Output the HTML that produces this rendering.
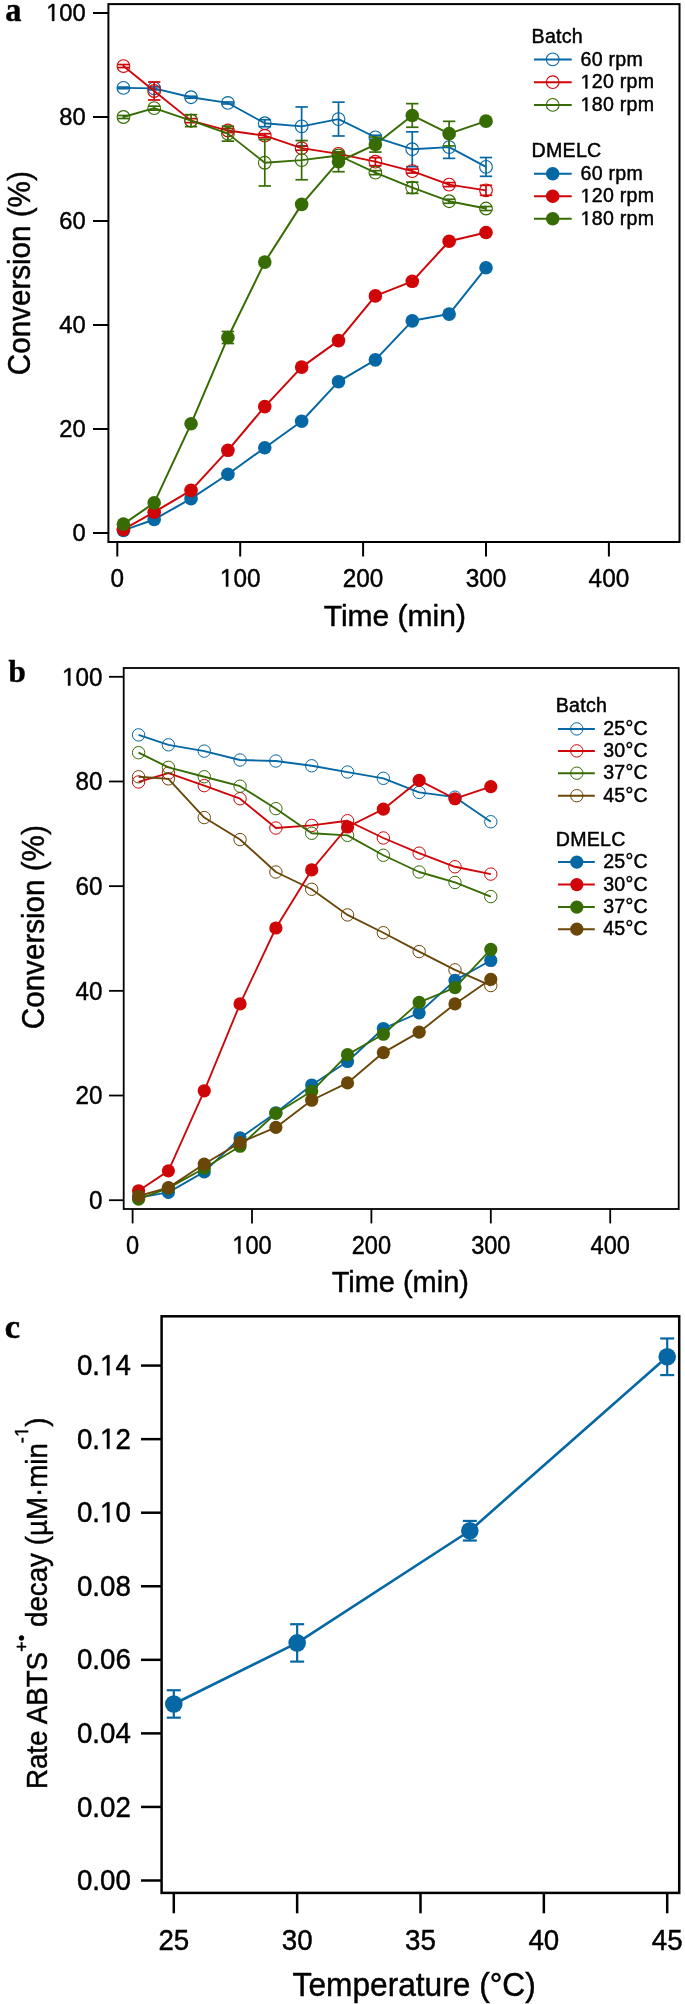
<!DOCTYPE html>
<html><head><meta charset="utf-8"><style>
html,body{margin:0;padding:0;background:#fff;}
svg{display:block;filter:blur(0.4px);}
text{stroke:#000;stroke-width:0.45px;}
</style></head><body>
<svg width="685" height="2004" viewBox="0 0 685 2004">
<rect width="685" height="2004" fill="#fff"/>
<path d="M123.44,87.88 L154.17,88.40 L191.04,97.24 L227.91,102.96 L264.78,123.24 L301.65,126.36 L338.52,119.08 L375.39,137.28 L412.26,149.24 L449.13,147.16 L486.00,166.92" fill="none" stroke="#0567a3" stroke-width="1.85" stroke-linejoin="round"/>
<line x1="123.44" y1="87.08" x2="123.44" y2="88.68" stroke="#0567a3" stroke-width="1.7" />
<line x1="117.24" y1="87.08" x2="129.64" y2="87.08" stroke="#0567a3" stroke-width="1.7" />
<line x1="117.24" y1="88.68" x2="129.64" y2="88.68" stroke="#0567a3" stroke-width="1.7" />
<line x1="154.17" y1="86.90" x2="154.17" y2="89.90" stroke="#0567a3" stroke-width="1.7" />
<line x1="147.97" y1="86.90" x2="160.37" y2="86.90" stroke="#0567a3" stroke-width="1.7" />
<line x1="147.97" y1="89.90" x2="160.37" y2="89.90" stroke="#0567a3" stroke-width="1.7" />
<line x1="191.04" y1="96.24" x2="191.04" y2="98.24" stroke="#0567a3" stroke-width="1.7" />
<line x1="184.84" y1="96.24" x2="197.24" y2="96.24" stroke="#0567a3" stroke-width="1.7" />
<line x1="184.84" y1="98.24" x2="197.24" y2="98.24" stroke="#0567a3" stroke-width="1.7" />
<line x1="227.91" y1="101.96" x2="227.91" y2="103.96" stroke="#0567a3" stroke-width="1.7" />
<line x1="221.71" y1="101.96" x2="234.11" y2="101.96" stroke="#0567a3" stroke-width="1.7" />
<line x1="221.71" y1="103.96" x2="234.11" y2="103.96" stroke="#0567a3" stroke-width="1.7" />
<line x1="264.78" y1="119.74" x2="264.78" y2="126.74" stroke="#0567a3" stroke-width="1.7" />
<line x1="258.58" y1="119.74" x2="270.98" y2="119.74" stroke="#0567a3" stroke-width="1.7" />
<line x1="258.58" y1="126.74" x2="270.98" y2="126.74" stroke="#0567a3" stroke-width="1.7" />
<line x1="301.65" y1="106.96" x2="301.65" y2="145.76" stroke="#0567a3" stroke-width="1.7" />
<line x1="295.45" y1="106.96" x2="307.85" y2="106.96" stroke="#0567a3" stroke-width="1.7" />
<line x1="295.45" y1="145.76" x2="307.85" y2="145.76" stroke="#0567a3" stroke-width="1.7" />
<line x1="338.52" y1="102.18" x2="338.52" y2="135.98" stroke="#0567a3" stroke-width="1.7" />
<line x1="332.32" y1="102.18" x2="344.72" y2="102.18" stroke="#0567a3" stroke-width="1.7" />
<line x1="332.32" y1="135.98" x2="344.72" y2="135.98" stroke="#0567a3" stroke-width="1.7" />
<line x1="375.39" y1="135.28" x2="375.39" y2="139.28" stroke="#0567a3" stroke-width="1.7" />
<line x1="369.19" y1="135.28" x2="381.59" y2="135.28" stroke="#0567a3" stroke-width="1.7" />
<line x1="369.19" y1="139.28" x2="381.59" y2="139.28" stroke="#0567a3" stroke-width="1.7" />
<line x1="412.26" y1="131.84" x2="412.26" y2="166.64" stroke="#0567a3" stroke-width="1.7" />
<line x1="406.06" y1="131.84" x2="418.46" y2="131.84" stroke="#0567a3" stroke-width="1.7" />
<line x1="406.06" y1="166.64" x2="418.46" y2="166.64" stroke="#0567a3" stroke-width="1.7" />
<line x1="449.13" y1="135.96" x2="449.13" y2="158.36" stroke="#0567a3" stroke-width="1.7" />
<line x1="442.93" y1="135.96" x2="455.33" y2="135.96" stroke="#0567a3" stroke-width="1.7" />
<line x1="442.93" y1="158.36" x2="455.33" y2="158.36" stroke="#0567a3" stroke-width="1.7" />
<line x1="486.00" y1="157.52" x2="486.00" y2="176.32" stroke="#0567a3" stroke-width="1.7" />
<line x1="479.80" y1="157.52" x2="492.20" y2="157.52" stroke="#0567a3" stroke-width="1.7" />
<line x1="479.80" y1="176.32" x2="492.20" y2="176.32" stroke="#0567a3" stroke-width="1.7" />
<circle cx="123.44" cy="87.88" r="6.35" fill="none" stroke="#0567a3" stroke-width="1.1"/>
<circle cx="154.17" cy="88.40" r="6.35" fill="none" stroke="#0567a3" stroke-width="1.1"/>
<circle cx="191.04" cy="97.24" r="6.35" fill="none" stroke="#0567a3" stroke-width="1.1"/>
<circle cx="227.91" cy="102.96" r="6.35" fill="none" stroke="#0567a3" stroke-width="1.1"/>
<circle cx="264.78" cy="123.24" r="6.35" fill="none" stroke="#0567a3" stroke-width="1.1"/>
<circle cx="301.65" cy="126.36" r="6.35" fill="none" stroke="#0567a3" stroke-width="1.1"/>
<circle cx="338.52" cy="119.08" r="6.35" fill="none" stroke="#0567a3" stroke-width="1.1"/>
<circle cx="375.39" cy="137.28" r="6.35" fill="none" stroke="#0567a3" stroke-width="1.1"/>
<circle cx="412.26" cy="149.24" r="6.35" fill="none" stroke="#0567a3" stroke-width="1.1"/>
<circle cx="449.13" cy="147.16" r="6.35" fill="none" stroke="#0567a3" stroke-width="1.1"/>
<circle cx="486.00" cy="166.92" r="6.35" fill="none" stroke="#0567a3" stroke-width="1.1"/>
<path d="M123.44,66.04 L154.17,91.00 L191.04,120.64 L227.91,130.52 L264.78,135.72 L301.65,148.20 L338.52,153.92 L375.39,161.72 L412.26,171.08 L449.13,184.60 L486.00,190.32" fill="none" stroke="#cf0508" stroke-width="1.85" stroke-linejoin="round"/>
<line x1="123.44" y1="64.54" x2="123.44" y2="67.54" stroke="#cf0508" stroke-width="1.7" />
<line x1="117.24" y1="64.54" x2="129.64" y2="64.54" stroke="#cf0508" stroke-width="1.7" />
<line x1="117.24" y1="67.54" x2="129.64" y2="67.54" stroke="#cf0508" stroke-width="1.7" />
<line x1="154.17" y1="82.00" x2="154.17" y2="100.00" stroke="#cf0508" stroke-width="1.7" />
<line x1="147.97" y1="82.00" x2="160.37" y2="82.00" stroke="#cf0508" stroke-width="1.7" />
<line x1="147.97" y1="100.00" x2="160.37" y2="100.00" stroke="#cf0508" stroke-width="1.7" />
<line x1="191.04" y1="118.64" x2="191.04" y2="122.64" stroke="#cf0508" stroke-width="1.7" />
<line x1="184.84" y1="118.64" x2="197.24" y2="118.64" stroke="#cf0508" stroke-width="1.7" />
<line x1="184.84" y1="122.64" x2="197.24" y2="122.64" stroke="#cf0508" stroke-width="1.7" />
<line x1="227.91" y1="128.52" x2="227.91" y2="132.52" stroke="#cf0508" stroke-width="1.7" />
<line x1="221.71" y1="128.52" x2="234.11" y2="128.52" stroke="#cf0508" stroke-width="1.7" />
<line x1="221.71" y1="132.52" x2="234.11" y2="132.52" stroke="#cf0508" stroke-width="1.7" />
<line x1="264.78" y1="133.72" x2="264.78" y2="137.72" stroke="#cf0508" stroke-width="1.7" />
<line x1="258.58" y1="133.72" x2="270.98" y2="133.72" stroke="#cf0508" stroke-width="1.7" />
<line x1="258.58" y1="137.72" x2="270.98" y2="137.72" stroke="#cf0508" stroke-width="1.7" />
<line x1="301.65" y1="146.20" x2="301.65" y2="150.20" stroke="#cf0508" stroke-width="1.7" />
<line x1="295.45" y1="146.20" x2="307.85" y2="146.20" stroke="#cf0508" stroke-width="1.7" />
<line x1="295.45" y1="150.20" x2="307.85" y2="150.20" stroke="#cf0508" stroke-width="1.7" />
<line x1="338.52" y1="152.42" x2="338.52" y2="155.42" stroke="#cf0508" stroke-width="1.7" />
<line x1="332.32" y1="152.42" x2="344.72" y2="152.42" stroke="#cf0508" stroke-width="1.7" />
<line x1="332.32" y1="155.42" x2="344.72" y2="155.42" stroke="#cf0508" stroke-width="1.7" />
<line x1="375.39" y1="157.72" x2="375.39" y2="165.72" stroke="#cf0508" stroke-width="1.7" />
<line x1="369.19" y1="157.72" x2="381.59" y2="157.72" stroke="#cf0508" stroke-width="1.7" />
<line x1="369.19" y1="165.72" x2="381.59" y2="165.72" stroke="#cf0508" stroke-width="1.7" />
<line x1="412.26" y1="169.08" x2="412.26" y2="173.08" stroke="#cf0508" stroke-width="1.7" />
<line x1="406.06" y1="169.08" x2="418.46" y2="169.08" stroke="#cf0508" stroke-width="1.7" />
<line x1="406.06" y1="173.08" x2="418.46" y2="173.08" stroke="#cf0508" stroke-width="1.7" />
<line x1="449.13" y1="182.60" x2="449.13" y2="186.60" stroke="#cf0508" stroke-width="1.7" />
<line x1="442.93" y1="182.60" x2="455.33" y2="182.60" stroke="#cf0508" stroke-width="1.7" />
<line x1="442.93" y1="186.60" x2="455.33" y2="186.60" stroke="#cf0508" stroke-width="1.7" />
<line x1="486.00" y1="185.32" x2="486.00" y2="195.32" stroke="#cf0508" stroke-width="1.7" />
<line x1="479.80" y1="185.32" x2="492.20" y2="185.32" stroke="#cf0508" stroke-width="1.7" />
<line x1="479.80" y1="195.32" x2="492.20" y2="195.32" stroke="#cf0508" stroke-width="1.7" />
<circle cx="123.44" cy="66.04" r="6.35" fill="none" stroke="#cf0508" stroke-width="1.1"/>
<circle cx="154.17" cy="91.00" r="6.35" fill="none" stroke="#cf0508" stroke-width="1.1"/>
<circle cx="191.04" cy="120.64" r="6.35" fill="none" stroke="#cf0508" stroke-width="1.1"/>
<circle cx="227.91" cy="130.52" r="6.35" fill="none" stroke="#cf0508" stroke-width="1.1"/>
<circle cx="264.78" cy="135.72" r="6.35" fill="none" stroke="#cf0508" stroke-width="1.1"/>
<circle cx="301.65" cy="148.20" r="6.35" fill="none" stroke="#cf0508" stroke-width="1.1"/>
<circle cx="338.52" cy="153.92" r="6.35" fill="none" stroke="#cf0508" stroke-width="1.1"/>
<circle cx="375.39" cy="161.72" r="6.35" fill="none" stroke="#cf0508" stroke-width="1.1"/>
<circle cx="412.26" cy="171.08" r="6.35" fill="none" stroke="#cf0508" stroke-width="1.1"/>
<circle cx="449.13" cy="184.60" r="6.35" fill="none" stroke="#cf0508" stroke-width="1.1"/>
<circle cx="486.00" cy="190.32" r="6.35" fill="none" stroke="#cf0508" stroke-width="1.1"/>
<path d="M123.44,117.00 L154.17,108.16 L191.04,120.64 L227.91,133.64 L264.78,162.76 L301.65,160.16 L338.52,155.48 L375.39,172.64 L412.26,187.72 L449.13,201.24 L486.00,208.52" fill="none" stroke="#366c03" stroke-width="1.85" stroke-linejoin="round"/>
<line x1="123.44" y1="115.50" x2="123.44" y2="118.50" stroke="#366c03" stroke-width="1.7" />
<line x1="117.24" y1="115.50" x2="129.64" y2="115.50" stroke="#366c03" stroke-width="1.7" />
<line x1="117.24" y1="118.50" x2="129.64" y2="118.50" stroke="#366c03" stroke-width="1.7" />
<line x1="154.17" y1="106.16" x2="154.17" y2="110.16" stroke="#366c03" stroke-width="1.7" />
<line x1="147.97" y1="106.16" x2="160.37" y2="106.16" stroke="#366c03" stroke-width="1.7" />
<line x1="147.97" y1="110.16" x2="160.37" y2="110.16" stroke="#366c03" stroke-width="1.7" />
<line x1="191.04" y1="114.64" x2="191.04" y2="126.64" stroke="#366c03" stroke-width="1.7" />
<line x1="184.84" y1="114.64" x2="197.24" y2="114.64" stroke="#366c03" stroke-width="1.7" />
<line x1="184.84" y1="126.64" x2="197.24" y2="126.64" stroke="#366c03" stroke-width="1.7" />
<line x1="227.91" y1="126.14" x2="227.91" y2="141.14" stroke="#366c03" stroke-width="1.7" />
<line x1="221.71" y1="126.14" x2="234.11" y2="126.14" stroke="#366c03" stroke-width="1.7" />
<line x1="221.71" y1="141.14" x2="234.11" y2="141.14" stroke="#366c03" stroke-width="1.7" />
<line x1="264.78" y1="139.56" x2="264.78" y2="185.96" stroke="#366c03" stroke-width="1.7" />
<line x1="258.58" y1="139.56" x2="270.98" y2="139.56" stroke="#366c03" stroke-width="1.7" />
<line x1="258.58" y1="185.96" x2="270.98" y2="185.96" stroke="#366c03" stroke-width="1.7" />
<line x1="301.65" y1="140.56" x2="301.65" y2="179.76" stroke="#366c03" stroke-width="1.7" />
<line x1="295.45" y1="140.56" x2="307.85" y2="140.56" stroke="#366c03" stroke-width="1.7" />
<line x1="295.45" y1="179.76" x2="307.85" y2="179.76" stroke="#366c03" stroke-width="1.7" />
<line x1="338.52" y1="153.98" x2="338.52" y2="156.98" stroke="#366c03" stroke-width="1.7" />
<line x1="332.32" y1="153.98" x2="344.72" y2="153.98" stroke="#366c03" stroke-width="1.7" />
<line x1="332.32" y1="156.98" x2="344.72" y2="156.98" stroke="#366c03" stroke-width="1.7" />
<line x1="375.39" y1="170.64" x2="375.39" y2="174.64" stroke="#366c03" stroke-width="1.7" />
<line x1="369.19" y1="170.64" x2="381.59" y2="170.64" stroke="#366c03" stroke-width="1.7" />
<line x1="369.19" y1="174.64" x2="381.59" y2="174.64" stroke="#366c03" stroke-width="1.7" />
<line x1="412.26" y1="182.12" x2="412.26" y2="193.32" stroke="#366c03" stroke-width="1.7" />
<line x1="406.06" y1="182.12" x2="418.46" y2="182.12" stroke="#366c03" stroke-width="1.7" />
<line x1="406.06" y1="193.32" x2="418.46" y2="193.32" stroke="#366c03" stroke-width="1.7" />
<line x1="449.13" y1="199.24" x2="449.13" y2="203.24" stroke="#366c03" stroke-width="1.7" />
<line x1="442.93" y1="199.24" x2="455.33" y2="199.24" stroke="#366c03" stroke-width="1.7" />
<line x1="442.93" y1="203.24" x2="455.33" y2="203.24" stroke="#366c03" stroke-width="1.7" />
<line x1="486.00" y1="206.52" x2="486.00" y2="210.52" stroke="#366c03" stroke-width="1.7" />
<line x1="479.80" y1="206.52" x2="492.20" y2="206.52" stroke="#366c03" stroke-width="1.7" />
<line x1="479.80" y1="210.52" x2="492.20" y2="210.52" stroke="#366c03" stroke-width="1.7" />
<circle cx="123.44" cy="117.00" r="6.35" fill="none" stroke="#366c03" stroke-width="1.1"/>
<circle cx="154.17" cy="108.16" r="6.35" fill="none" stroke="#366c03" stroke-width="1.1"/>
<circle cx="191.04" cy="120.64" r="6.35" fill="none" stroke="#366c03" stroke-width="1.1"/>
<circle cx="227.91" cy="133.64" r="6.35" fill="none" stroke="#366c03" stroke-width="1.1"/>
<circle cx="264.78" cy="162.76" r="6.35" fill="none" stroke="#366c03" stroke-width="1.1"/>
<circle cx="301.65" cy="160.16" r="6.35" fill="none" stroke="#366c03" stroke-width="1.1"/>
<circle cx="338.52" cy="155.48" r="6.35" fill="none" stroke="#366c03" stroke-width="1.1"/>
<circle cx="375.39" cy="172.64" r="6.35" fill="none" stroke="#366c03" stroke-width="1.1"/>
<circle cx="412.26" cy="187.72" r="6.35" fill="none" stroke="#366c03" stroke-width="1.1"/>
<circle cx="449.13" cy="201.24" r="6.35" fill="none" stroke="#366c03" stroke-width="1.1"/>
<circle cx="486.00" cy="208.52" r="6.35" fill="none" stroke="#366c03" stroke-width="1.1"/>
<path d="M123.44,530.40 L154.17,519.48 L191.04,498.68 L227.91,474.24 L264.78,447.72 L301.65,421.20 L338.52,381.68 L375.39,359.84 L412.26,320.84 L449.13,314.08 L486.00,267.80" fill="none" stroke="#0567a3" stroke-width="2.0" stroke-linejoin="round"/>
<circle cx="123.44" cy="530.40" r="6.8" fill="#0567a3"/>
<circle cx="154.17" cy="519.48" r="6.8" fill="#0567a3"/>
<circle cx="191.04" cy="498.68" r="6.8" fill="#0567a3"/>
<circle cx="227.91" cy="474.24" r="6.8" fill="#0567a3"/>
<circle cx="264.78" cy="447.72" r="6.8" fill="#0567a3"/>
<circle cx="301.65" cy="421.20" r="6.8" fill="#0567a3"/>
<circle cx="338.52" cy="381.68" r="6.8" fill="#0567a3"/>
<circle cx="375.39" cy="359.84" r="6.8" fill="#0567a3"/>
<circle cx="412.26" cy="320.84" r="6.8" fill="#0567a3"/>
<circle cx="449.13" cy="314.08" r="6.8" fill="#0567a3"/>
<circle cx="486.00" cy="267.80" r="6.8" fill="#0567a3"/>
<path d="M123.44,529.36 L154.17,512.20 L191.04,490.36 L227.91,450.32 L264.78,406.64 L301.65,367.12 L338.52,340.60 L375.39,295.88 L412.26,281.32 L449.13,241.28 L486.00,232.44" fill="none" stroke="#cf0508" stroke-width="2.0" stroke-linejoin="round"/>
<circle cx="123.44" cy="529.36" r="6.8" fill="#cf0508"/>
<circle cx="154.17" cy="512.20" r="6.8" fill="#cf0508"/>
<circle cx="191.04" cy="490.36" r="6.8" fill="#cf0508"/>
<circle cx="227.91" cy="450.32" r="6.8" fill="#cf0508"/>
<circle cx="264.78" cy="406.64" r="6.8" fill="#cf0508"/>
<circle cx="301.65" cy="367.12" r="6.8" fill="#cf0508"/>
<circle cx="338.52" cy="340.60" r="6.8" fill="#cf0508"/>
<circle cx="375.39" cy="295.88" r="6.8" fill="#cf0508"/>
<circle cx="412.26" cy="281.32" r="6.8" fill="#cf0508"/>
<circle cx="449.13" cy="241.28" r="6.8" fill="#cf0508"/>
<circle cx="486.00" cy="232.44" r="6.8" fill="#cf0508"/>
<path d="M123.44,524.16 L154.17,502.84 L191.04,423.80 L227.91,337.48 L264.78,262.08 L301.65,204.36 L338.52,161.72 L375.39,144.56 L412.26,115.44 L449.13,133.64 L486.00,121.16" fill="none" stroke="#366c03" stroke-width="2.0" stroke-linejoin="round"/>
<line x1="227.91" y1="331.48" x2="227.91" y2="343.48" stroke="#366c03" stroke-width="1.7" />
<line x1="221.71" y1="331.48" x2="234.11" y2="331.48" stroke="#366c03" stroke-width="1.7" />
<line x1="221.71" y1="343.48" x2="234.11" y2="343.48" stroke="#366c03" stroke-width="1.7" />
<line x1="338.52" y1="151.72" x2="338.52" y2="171.72" stroke="#366c03" stroke-width="1.7" />
<line x1="332.32" y1="151.72" x2="344.72" y2="151.72" stroke="#366c03" stroke-width="1.7" />
<line x1="332.32" y1="171.72" x2="344.72" y2="171.72" stroke="#366c03" stroke-width="1.7" />
<line x1="375.39" y1="137.06" x2="375.39" y2="152.06" stroke="#366c03" stroke-width="1.7" />
<line x1="369.19" y1="137.06" x2="381.59" y2="137.06" stroke="#366c03" stroke-width="1.7" />
<line x1="369.19" y1="152.06" x2="381.59" y2="152.06" stroke="#366c03" stroke-width="1.7" />
<line x1="412.26" y1="103.64" x2="412.26" y2="127.24" stroke="#366c03" stroke-width="1.7" />
<line x1="406.06" y1="103.64" x2="418.46" y2="103.64" stroke="#366c03" stroke-width="1.7" />
<line x1="406.06" y1="127.24" x2="418.46" y2="127.24" stroke="#366c03" stroke-width="1.7" />
<line x1="449.13" y1="121.34" x2="449.13" y2="145.94" stroke="#366c03" stroke-width="1.7" />
<line x1="442.93" y1="121.34" x2="455.33" y2="121.34" stroke="#366c03" stroke-width="1.7" />
<line x1="442.93" y1="145.94" x2="455.33" y2="145.94" stroke="#366c03" stroke-width="1.7" />
<line x1="486.00" y1="119.16" x2="486.00" y2="123.16" stroke="#366c03" stroke-width="1.7" />
<line x1="479.80" y1="119.16" x2="492.20" y2="119.16" stroke="#366c03" stroke-width="1.7" />
<line x1="479.80" y1="123.16" x2="492.20" y2="123.16" stroke="#366c03" stroke-width="1.7" />
<circle cx="123.44" cy="524.16" r="6.8" fill="#366c03"/>
<circle cx="154.17" cy="502.84" r="6.8" fill="#366c03"/>
<circle cx="191.04" cy="423.80" r="6.8" fill="#366c03"/>
<circle cx="227.91" cy="337.48" r="6.8" fill="#366c03"/>
<circle cx="264.78" cy="262.08" r="6.8" fill="#366c03"/>
<circle cx="301.65" cy="204.36" r="6.8" fill="#366c03"/>
<circle cx="338.52" cy="161.72" r="6.8" fill="#366c03"/>
<circle cx="375.39" cy="144.56" r="6.8" fill="#366c03"/>
<circle cx="412.26" cy="115.44" r="6.8" fill="#366c03"/>
<circle cx="449.13" cy="133.64" r="6.8" fill="#366c03"/>
<circle cx="486.00" cy="121.16" r="6.8" fill="#366c03"/>
<rect x="108.4" y="4.1" width="571.1" height="537.9" fill="none" stroke="#000" stroke-width="2"/>
<line x1="93.00" y1="533.00" x2="108.40" y2="533.00" stroke="#000" stroke-width="2" />
<g transform="translate(85.80,540.90) scale(0.97,1)"><text x="-13.626" y="0" font-size="24.5" font-family='"Liberation Sans", sans-serif'>0</text>
</g>
<line x1="93.00" y1="429.00" x2="108.40" y2="429.00" stroke="#000" stroke-width="2" />
<g transform="translate(85.80,436.90) scale(0.97,1)"><text x="-27.251" y="0" font-size="24.5" font-family='"Liberation Sans", sans-serif'>20</text>
</g>
<line x1="93.00" y1="325.00" x2="108.40" y2="325.00" stroke="#000" stroke-width="2" />
<g transform="translate(85.80,332.90) scale(0.97,1)"><text x="-27.251" y="0" font-size="24.5" font-family='"Liberation Sans", sans-serif'>40</text>
</g>
<line x1="93.00" y1="221.00" x2="108.40" y2="221.00" stroke="#000" stroke-width="2" />
<g transform="translate(85.80,228.90) scale(0.97,1)"><text x="-27.251" y="0" font-size="24.5" font-family='"Liberation Sans", sans-serif'>60</text>
</g>
<line x1="93.00" y1="117.00" x2="108.40" y2="117.00" stroke="#000" stroke-width="2" />
<g transform="translate(85.80,124.90) scale(0.97,1)"><text x="-27.251" y="0" font-size="24.5" font-family='"Liberation Sans", sans-serif'>80</text>
</g>
<line x1="93.00" y1="13.00" x2="108.40" y2="13.00" stroke="#000" stroke-width="2" />
<g transform="translate(85.80,20.90) scale(0.97,1)"><text x="-40.877" y="0" font-size="24.5" font-family='"Liberation Sans", sans-serif'><tspan style="fill:none;stroke:none">1</tspan>00</text>
<path d="M515,0 L515,1237 L197,1010 L197,1180 L530,1409 L696,1409 L696,0 Z" transform="translate(-40.877,0) scale(0.011963,-0.011963)" fill="#000" stroke="#000" stroke-width="37.62"/>
</g>
<line x1="117.30" y1="542.00" x2="117.30" y2="556.50" stroke="#000" stroke-width="2" />
<g transform="translate(117.30,586.60) scale(0.965,1)"><text x="-7.008" y="0" font-size="25.2" font-family='"Liberation Sans", sans-serif'>0</text>
</g>
<line x1="240.20" y1="542.00" x2="240.20" y2="556.50" stroke="#000" stroke-width="2" />
<g transform="translate(240.20,586.60) scale(0.965,1)"><text x="-21.023" y="0" font-size="25.2" font-family='"Liberation Sans", sans-serif'><tspan style="fill:none;stroke:none">1</tspan>00</text>
<path d="M515,0 L515,1237 L197,1010 L197,1180 L530,1409 L696,1409 L696,0 Z" transform="translate(-21.023,0) scale(0.012305,-0.012305)" fill="#000" stroke="#000" stroke-width="36.57"/>
</g>
<line x1="363.10" y1="542.00" x2="363.10" y2="556.50" stroke="#000" stroke-width="2" />
<g transform="translate(363.10,586.60) scale(0.965,1)"><text x="-21.023" y="0" font-size="25.2" font-family='"Liberation Sans", sans-serif'>200</text>
</g>
<line x1="486.00" y1="542.00" x2="486.00" y2="556.50" stroke="#000" stroke-width="2" />
<g transform="translate(486.00,586.60) scale(0.965,1)"><text x="-21.023" y="0" font-size="25.2" font-family='"Liberation Sans", sans-serif'>300</text>
</g>
<line x1="608.90" y1="542.00" x2="608.90" y2="556.50" stroke="#000" stroke-width="2" />
<g transform="translate(608.90,586.60) scale(0.965,1)"><text x="-21.023" y="0" font-size="25.2" font-family='"Liberation Sans", sans-serif'>400</text>
</g>
<text transform="translate(394.80,626.00)" font-size="30" text-anchor="middle" font-family='"Liberation Sans", sans-serif' >Time (min)</text>
<text transform="translate(29.70,273.20) rotate(-90) scale(0.955,1)" font-size="31" text-anchor="middle" font-family='"Liberation Sans", sans-serif' >Conversion (%)</text>
<text transform="translate(5.30,20.80) scale(0.94,1)" font-size="34.5" text-anchor="start" font-family='"Liberation Serif", serif' font-weight="bold">a</text>
<text transform="translate(531.60,42.80)" font-size="19.6" text-anchor="start" font-family='"Liberation Sans", sans-serif' letter-spacing="0.25">Batch</text>
<line x1="534.00" y1="59.40" x2="571.70" y2="59.40" stroke="#0567a3" stroke-width="2" />
<circle cx="552.7" cy="59.4" r="6.35" fill="none" stroke="#0567a3" stroke-width="1.1"/>
<g transform="translate(580.60,65.60)"><text x="0.000" y="0" font-size="19.6" font-family='"Liberation Sans", sans-serif' letter-spacing="0.25">60 rpm</text>
</g>
<line x1="534.00" y1="82.20" x2="571.70" y2="82.20" stroke="#cf0508" stroke-width="2" />
<circle cx="552.7" cy="82.2" r="6.35" fill="none" stroke="#cf0508" stroke-width="1.1"/>
<g transform="translate(580.60,88.40)"><text x="0.000" y="0" font-size="19.6" font-family='"Liberation Sans", sans-serif' letter-spacing="0.25"><tspan style="fill:none;stroke:none">1</tspan>20 rpm</text>
<path d="M515,0 L515,1237 L197,1010 L197,1180 L530,1409 L696,1409 L696,0 Z" transform="translate(0.000,0) scale(0.009570,-0.009570)" fill="#000" stroke="#000" stroke-width="47.02"/>
</g>
<line x1="534.00" y1="104.90" x2="571.70" y2="104.90" stroke="#366c03" stroke-width="2" />
<circle cx="552.7" cy="104.9" r="6.35" fill="none" stroke="#366c03" stroke-width="1.1"/>
<g transform="translate(580.60,111.10)"><text x="0.000" y="0" font-size="19.6" font-family='"Liberation Sans", sans-serif' letter-spacing="0.25"><tspan style="fill:none;stroke:none">1</tspan>80 rpm</text>
<path d="M515,0 L515,1237 L197,1010 L197,1180 L530,1409 L696,1409 L696,0 Z" transform="translate(0.000,0) scale(0.009570,-0.009570)" fill="#000" stroke="#000" stroke-width="47.02"/>
</g>
<text transform="translate(531.60,156.90)" font-size="19.6" text-anchor="start" font-family='"Liberation Sans", sans-serif' letter-spacing="0.25">DMELC</text>
<line x1="534.00" y1="173.70" x2="571.70" y2="173.70" stroke="#0567a3" stroke-width="2" />
<circle cx="552.7" cy="173.7" r="6.8" fill="#0567a3"/>
<g transform="translate(580.60,179.90)"><text x="0.000" y="0" font-size="19.6" font-family='"Liberation Sans", sans-serif' letter-spacing="0.25">60 rpm</text>
</g>
<line x1="534.00" y1="196.20" x2="571.70" y2="196.20" stroke="#cf0508" stroke-width="2" />
<circle cx="552.7" cy="196.2" r="6.8" fill="#cf0508"/>
<g transform="translate(580.60,202.40)"><text x="0.000" y="0" font-size="19.6" font-family='"Liberation Sans", sans-serif' letter-spacing="0.25"><tspan style="fill:none;stroke:none">1</tspan>20 rpm</text>
<path d="M515,0 L515,1237 L197,1010 L197,1180 L530,1409 L696,1409 L696,0 Z" transform="translate(0.000,0) scale(0.009570,-0.009570)" fill="#000" stroke="#000" stroke-width="47.02"/>
</g>
<line x1="534.00" y1="218.80" x2="571.70" y2="218.80" stroke="#366c03" stroke-width="2" />
<circle cx="552.7" cy="218.8" r="6.8" fill="#366c03"/>
<g transform="translate(580.60,225.00)"><text x="0.000" y="0" font-size="19.6" font-family='"Liberation Sans", sans-serif' letter-spacing="0.25"><tspan style="fill:none;stroke:none">1</tspan>80 rpm</text>
<path d="M515,0 L515,1237 L197,1010 L197,1180 L530,1409 L696,1409 L696,0 Z" transform="translate(0.000,0) scale(0.009570,-0.009570)" fill="#000" stroke="#000" stroke-width="47.02"/>
</g>
<path d="M138.57,734.87 L168.42,744.82 L204.24,751.10 L240.06,760.00 L275.88,761.04 L311.70,765.75 L347.52,772.04 L383.34,778.32 L419.16,792.45 L454.98,797.16 L490.80,821.76" fill="none" stroke="#0567a3" stroke-width="1.85" stroke-linejoin="round"/>
<circle cx="138.57" cy="734.87" r="6.2" fill="none" stroke="#0567a3" stroke-width="1.0"/>
<circle cx="168.42" cy="744.82" r="6.2" fill="none" stroke="#0567a3" stroke-width="1.0"/>
<circle cx="204.24" cy="751.10" r="6.2" fill="none" stroke="#0567a3" stroke-width="1.0"/>
<circle cx="240.06" cy="760.00" r="6.2" fill="none" stroke="#0567a3" stroke-width="1.0"/>
<circle cx="275.88" cy="761.04" r="6.2" fill="none" stroke="#0567a3" stroke-width="1.0"/>
<circle cx="311.70" cy="765.75" r="6.2" fill="none" stroke="#0567a3" stroke-width="1.0"/>
<circle cx="347.52" cy="772.04" r="6.2" fill="none" stroke="#0567a3" stroke-width="1.0"/>
<circle cx="383.34" cy="778.32" r="6.2" fill="none" stroke="#0567a3" stroke-width="1.0"/>
<circle cx="419.16" cy="792.45" r="6.2" fill="none" stroke="#0567a3" stroke-width="1.0"/>
<circle cx="454.98" cy="797.16" r="6.2" fill="none" stroke="#0567a3" stroke-width="1.0"/>
<circle cx="490.80" cy="821.76" r="6.2" fill="none" stroke="#0567a3" stroke-width="1.0"/>
<path d="M138.57,781.98 L168.42,773.08 L204.24,785.64 L240.06,798.73 L275.88,828.04 L311.70,825.42 L347.52,820.71 L383.34,837.98 L419.16,853.16 L454.98,866.77 L490.80,874.10" fill="none" stroke="#cf0508" stroke-width="1.85" stroke-linejoin="round"/>
<circle cx="138.57" cy="781.98" r="6.2" fill="none" stroke="#cf0508" stroke-width="1.0"/>
<circle cx="168.42" cy="773.08" r="6.2" fill="none" stroke="#cf0508" stroke-width="1.0"/>
<circle cx="204.24" cy="785.64" r="6.2" fill="none" stroke="#cf0508" stroke-width="1.0"/>
<circle cx="240.06" cy="798.73" r="6.2" fill="none" stroke="#cf0508" stroke-width="1.0"/>
<circle cx="275.88" cy="828.04" r="6.2" fill="none" stroke="#cf0508" stroke-width="1.0"/>
<circle cx="311.70" cy="825.42" r="6.2" fill="none" stroke="#cf0508" stroke-width="1.0"/>
<circle cx="347.52" cy="820.71" r="6.2" fill="none" stroke="#cf0508" stroke-width="1.0"/>
<circle cx="383.34" cy="837.98" r="6.2" fill="none" stroke="#cf0508" stroke-width="1.0"/>
<circle cx="419.16" cy="853.16" r="6.2" fill="none" stroke="#cf0508" stroke-width="1.0"/>
<circle cx="454.98" cy="866.77" r="6.2" fill="none" stroke="#cf0508" stroke-width="1.0"/>
<circle cx="490.80" cy="874.10" r="6.2" fill="none" stroke="#cf0508" stroke-width="1.0"/>
<path d="M138.57,752.67 L168.42,767.32 L204.24,776.75 L240.06,786.17 L275.88,808.67 L311.70,833.27 L347.52,835.37 L383.34,855.26 L419.16,872.00 L454.98,882.47 L490.80,896.60" fill="none" stroke="#366c03" stroke-width="1.85" stroke-linejoin="round"/>
<circle cx="138.57" cy="752.67" r="6.2" fill="none" stroke="#366c03" stroke-width="1.0"/>
<circle cx="168.42" cy="767.32" r="6.2" fill="none" stroke="#366c03" stroke-width="1.0"/>
<circle cx="204.24" cy="776.75" r="6.2" fill="none" stroke="#366c03" stroke-width="1.0"/>
<circle cx="240.06" cy="786.17" r="6.2" fill="none" stroke="#366c03" stroke-width="1.0"/>
<circle cx="275.88" cy="808.67" r="6.2" fill="none" stroke="#366c03" stroke-width="1.0"/>
<circle cx="311.70" cy="833.27" r="6.2" fill="none" stroke="#366c03" stroke-width="1.0"/>
<circle cx="347.52" cy="835.37" r="6.2" fill="none" stroke="#366c03" stroke-width="1.0"/>
<circle cx="383.34" cy="855.26" r="6.2" fill="none" stroke="#366c03" stroke-width="1.0"/>
<circle cx="419.16" cy="872.00" r="6.2" fill="none" stroke="#366c03" stroke-width="1.0"/>
<circle cx="454.98" cy="882.47" r="6.2" fill="none" stroke="#366c03" stroke-width="1.0"/>
<circle cx="490.80" cy="896.60" r="6.2" fill="none" stroke="#366c03" stroke-width="1.0"/>
<path d="M138.57,776.75 L168.42,778.84 L204.24,817.57 L240.06,839.55 L275.88,872.00 L311.70,889.28 L347.52,914.92 L383.34,932.72 L419.16,951.56 L454.98,969.88 L490.80,985.58" fill="none" stroke="#6a4608" stroke-width="1.85" stroke-linejoin="round"/>
<circle cx="138.57" cy="776.75" r="6.2" fill="none" stroke="#6a4608" stroke-width="1.0"/>
<circle cx="168.42" cy="778.84" r="6.2" fill="none" stroke="#6a4608" stroke-width="1.0"/>
<circle cx="204.24" cy="817.57" r="6.2" fill="none" stroke="#6a4608" stroke-width="1.0"/>
<circle cx="240.06" cy="839.55" r="6.2" fill="none" stroke="#6a4608" stroke-width="1.0"/>
<circle cx="275.88" cy="872.00" r="6.2" fill="none" stroke="#6a4608" stroke-width="1.0"/>
<circle cx="311.70" cy="889.28" r="6.2" fill="none" stroke="#6a4608" stroke-width="1.0"/>
<circle cx="347.52" cy="914.92" r="6.2" fill="none" stroke="#6a4608" stroke-width="1.0"/>
<circle cx="383.34" cy="932.72" r="6.2" fill="none" stroke="#6a4608" stroke-width="1.0"/>
<circle cx="419.16" cy="951.56" r="6.2" fill="none" stroke="#6a4608" stroke-width="1.0"/>
<circle cx="454.98" cy="969.88" r="6.2" fill="none" stroke="#6a4608" stroke-width="1.0"/>
<circle cx="490.80" cy="985.58" r="6.2" fill="none" stroke="#6a4608" stroke-width="1.0"/>
<path d="M138.57,1197.56 L168.42,1192.33 L204.24,1171.91 L240.06,1137.89 L275.88,1112.77 L311.70,1085.03 L347.52,1061.48 L383.34,1028.50 L419.16,1012.80 L454.98,980.35 L490.80,960.46" fill="none" stroke="#0567a3" stroke-width="1.85" stroke-linejoin="round"/>
<circle cx="138.57" cy="1197.56" r="6.6" fill="#0567a3"/>
<circle cx="168.42" cy="1192.33" r="6.6" fill="#0567a3"/>
<circle cx="204.24" cy="1171.91" r="6.6" fill="#0567a3"/>
<circle cx="240.06" cy="1137.89" r="6.6" fill="#0567a3"/>
<circle cx="275.88" cy="1112.77" r="6.6" fill="#0567a3"/>
<circle cx="311.70" cy="1085.03" r="6.6" fill="#0567a3"/>
<circle cx="347.52" cy="1061.48" r="6.6" fill="#0567a3"/>
<circle cx="383.34" cy="1028.50" r="6.6" fill="#0567a3"/>
<circle cx="419.16" cy="1012.80" r="6.6" fill="#0567a3"/>
<circle cx="454.98" cy="980.35" r="6.6" fill="#0567a3"/>
<circle cx="490.80" cy="960.46" r="6.6" fill="#0567a3"/>
<path d="M138.57,1190.76 L168.42,1170.87 L204.24,1090.79 L240.06,1003.90 L275.88,928.01 L311.70,869.91 L347.52,826.99 L383.34,809.20 L419.16,780.41 L454.98,798.73 L490.80,786.69" fill="none" stroke="#cf0508" stroke-width="1.85" stroke-linejoin="round"/>
<circle cx="138.57" cy="1190.76" r="6.6" fill="#cf0508"/>
<circle cx="168.42" cy="1170.87" r="6.6" fill="#cf0508"/>
<circle cx="204.24" cy="1090.79" r="6.6" fill="#cf0508"/>
<circle cx="240.06" cy="1003.90" r="6.6" fill="#cf0508"/>
<circle cx="275.88" cy="928.01" r="6.6" fill="#cf0508"/>
<circle cx="311.70" cy="869.91" r="6.6" fill="#cf0508"/>
<circle cx="347.52" cy="826.99" r="6.6" fill="#cf0508"/>
<circle cx="383.34" cy="809.20" r="6.6" fill="#cf0508"/>
<circle cx="419.16" cy="780.41" r="6.6" fill="#cf0508"/>
<circle cx="454.98" cy="798.73" r="6.6" fill="#cf0508"/>
<circle cx="490.80" cy="786.69" r="6.6" fill="#cf0508"/>
<path d="M138.57,1199.13 L168.42,1188.14 L204.24,1168.25 L240.06,1146.27 L275.88,1113.29 L311.70,1091.31 L347.52,1054.67 L383.34,1034.26 L419.16,1002.33 L454.98,987.68 L490.80,949.47" fill="none" stroke="#366c03" stroke-width="1.85" stroke-linejoin="round"/>
<circle cx="138.57" cy="1199.13" r="6.6" fill="#366c03"/>
<circle cx="168.42" cy="1188.14" r="6.6" fill="#366c03"/>
<circle cx="204.24" cy="1168.25" r="6.6" fill="#366c03"/>
<circle cx="240.06" cy="1146.27" r="6.6" fill="#366c03"/>
<circle cx="275.88" cy="1113.29" r="6.6" fill="#366c03"/>
<circle cx="311.70" cy="1091.31" r="6.6" fill="#366c03"/>
<circle cx="347.52" cy="1054.67" r="6.6" fill="#366c03"/>
<circle cx="383.34" cy="1034.26" r="6.6" fill="#366c03"/>
<circle cx="419.16" cy="1002.33" r="6.6" fill="#366c03"/>
<circle cx="454.98" cy="987.68" r="6.6" fill="#366c03"/>
<circle cx="490.80" cy="949.47" r="6.6" fill="#366c03"/>
<path d="M138.57,1195.99 L168.42,1187.62 L204.24,1164.06 L240.06,1142.60 L275.88,1127.42 L311.70,1100.21 L347.52,1082.93 L383.34,1052.58 L419.16,1032.17 L454.98,1003.90 L490.80,979.30" fill="none" stroke="#6a4608" stroke-width="1.85" stroke-linejoin="round"/>
<circle cx="138.57" cy="1195.99" r="6.6" fill="#6a4608"/>
<circle cx="168.42" cy="1187.62" r="6.6" fill="#6a4608"/>
<circle cx="204.24" cy="1164.06" r="6.6" fill="#6a4608"/>
<circle cx="240.06" cy="1142.60" r="6.6" fill="#6a4608"/>
<circle cx="275.88" cy="1127.42" r="6.6" fill="#6a4608"/>
<circle cx="311.70" cy="1100.21" r="6.6" fill="#6a4608"/>
<circle cx="347.52" cy="1082.93" r="6.6" fill="#6a4608"/>
<circle cx="383.34" cy="1052.58" r="6.6" fill="#6a4608"/>
<circle cx="419.16" cy="1032.17" r="6.6" fill="#6a4608"/>
<circle cx="454.98" cy="1003.90" r="6.6" fill="#6a4608"/>
<circle cx="490.80" cy="979.30" r="6.6" fill="#6a4608"/>
<rect x="123.7" y="668.0" width="555.0" height="541.0" fill="none" stroke="#000" stroke-width="1.8"/>
<line x1="109.00" y1="1200.20" x2="123.70" y2="1200.20" stroke="#000" stroke-width="1.8" />
<g transform="translate(102.40,1208.90) scale(0.96,1)"><text x="-14.015" y="0" font-size="25.2" font-family='"Liberation Sans", sans-serif'>0</text>
</g>
<line x1="109.00" y1="1095.52" x2="123.70" y2="1095.52" stroke="#000" stroke-width="1.8" />
<g transform="translate(102.40,1104.22) scale(0.96,1)"><text x="-28.030" y="0" font-size="25.2" font-family='"Liberation Sans", sans-serif'>20</text>
</g>
<line x1="109.00" y1="990.84" x2="123.70" y2="990.84" stroke="#000" stroke-width="1.8" />
<g transform="translate(102.40,999.54) scale(0.96,1)"><text x="-28.030" y="0" font-size="25.2" font-family='"Liberation Sans", sans-serif'>40</text>
</g>
<line x1="109.00" y1="886.16" x2="123.70" y2="886.16" stroke="#000" stroke-width="1.8" />
<g transform="translate(102.40,894.86) scale(0.96,1)"><text x="-28.030" y="0" font-size="25.2" font-family='"Liberation Sans", sans-serif'>60</text>
</g>
<line x1="109.00" y1="781.48" x2="123.70" y2="781.48" stroke="#000" stroke-width="1.8" />
<g transform="translate(102.40,790.18) scale(0.96,1)"><text x="-28.030" y="0" font-size="25.2" font-family='"Liberation Sans", sans-serif'>80</text>
</g>
<line x1="109.00" y1="676.80" x2="123.70" y2="676.80" stroke="#000" stroke-width="1.8" />
<g transform="translate(102.40,685.50) scale(0.96,1)"><text x="-42.045" y="0" font-size="25.2" font-family='"Liberation Sans", sans-serif'><tspan style="fill:none;stroke:none">1</tspan>00</text>
<path d="M515,0 L515,1237 L197,1010 L197,1180 L530,1409 L696,1409 L696,0 Z" transform="translate(-42.045,0) scale(0.012305,-0.012305)" fill="#000" stroke="#000" stroke-width="36.57"/>
</g>
<line x1="132.60" y1="1209.00" x2="132.60" y2="1223.40" stroke="#000" stroke-width="1.8" />
<g transform="translate(132.60,1253.60) scale(0.935,1)"><text x="-7.008" y="0" font-size="25.2" font-family='"Liberation Sans", sans-serif'>0</text>
</g>
<line x1="252.00" y1="1209.00" x2="252.00" y2="1223.40" stroke="#000" stroke-width="1.8" />
<g transform="translate(252.00,1253.60) scale(0.935,1)"><text x="-21.023" y="0" font-size="25.2" font-family='"Liberation Sans", sans-serif'><tspan style="fill:none;stroke:none">1</tspan>00</text>
<path d="M515,0 L515,1237 L197,1010 L197,1180 L530,1409 L696,1409 L696,0 Z" transform="translate(-21.023,0) scale(0.012305,-0.012305)" fill="#000" stroke="#000" stroke-width="36.57"/>
</g>
<line x1="371.40" y1="1209.00" x2="371.40" y2="1223.40" stroke="#000" stroke-width="1.8" />
<g transform="translate(371.40,1253.60) scale(0.935,1)"><text x="-21.023" y="0" font-size="25.2" font-family='"Liberation Sans", sans-serif'>200</text>
</g>
<line x1="490.80" y1="1209.00" x2="490.80" y2="1223.40" stroke="#000" stroke-width="1.8" />
<g transform="translate(490.80,1253.60) scale(0.935,1)"><text x="-21.023" y="0" font-size="25.2" font-family='"Liberation Sans", sans-serif'>300</text>
</g>
<line x1="610.20" y1="1209.00" x2="610.20" y2="1223.40" stroke="#000" stroke-width="1.8" />
<g transform="translate(610.20,1253.60) scale(0.935,1)"><text x="-21.023" y="0" font-size="25.2" font-family='"Liberation Sans", sans-serif'>400</text>
</g>
<text transform="translate(400.30,1292.00) scale(0.965,1)" font-size="30" text-anchor="middle" font-family='"Liberation Sans", sans-serif' >Time (min)</text>
<text transform="translate(44.20,927.20) rotate(-90) scale(0.955,1)" font-size="31" text-anchor="middle" font-family='"Liberation Sans", sans-serif' >Conversion (%)</text>
<text transform="translate(8.60,682.00)" font-size="31" text-anchor="start" font-family='"Liberation Serif", serif' font-weight="bold">b</text>
<text transform="translate(555.80,712.20)" font-size="19.6" text-anchor="start" font-family='"Liberation Sans", sans-serif' letter-spacing="0.25">Batch</text>
<line x1="558.00" y1="728.90" x2="594.80" y2="728.90" stroke="#0567a3" stroke-width="2.0" />
<circle cx="576.8" cy="728.9" r="6.2" fill="none" stroke="#0567a3" stroke-width="1.0"/>
<text transform="translate(603.20,735.00)" font-size="19.6" text-anchor="start" font-family='"Liberation Sans", sans-serif' letter-spacing="0.25">25°C</text>
<line x1="558.00" y1="750.90" x2="594.80" y2="750.90" stroke="#cf0508" stroke-width="2.0" />
<circle cx="576.8" cy="750.9" r="6.2" fill="none" stroke="#cf0508" stroke-width="1.0"/>
<text transform="translate(603.20,757.00)" font-size="19.6" text-anchor="start" font-family='"Liberation Sans", sans-serif' letter-spacing="0.25">30°C</text>
<line x1="558.00" y1="773.20" x2="594.80" y2="773.20" stroke="#366c03" stroke-width="2.0" />
<circle cx="576.8" cy="773.2" r="6.2" fill="none" stroke="#366c03" stroke-width="1.0"/>
<text transform="translate(603.20,779.30)" font-size="19.6" text-anchor="start" font-family='"Liberation Sans", sans-serif' letter-spacing="0.25">37°C</text>
<line x1="558.00" y1="795.70" x2="594.80" y2="795.70" stroke="#6a4608" stroke-width="2.0" />
<circle cx="576.8" cy="795.7" r="6.2" fill="none" stroke="#6a4608" stroke-width="1.0"/>
<text transform="translate(603.20,801.80)" font-size="19.6" text-anchor="start" font-family='"Liberation Sans", sans-serif' letter-spacing="0.25">45°C</text>
<text transform="translate(555.80,845.60)" font-size="19.6" text-anchor="start" font-family='"Liberation Sans", sans-serif' letter-spacing="0.25">DMELC</text>
<line x1="558.00" y1="862.10" x2="594.80" y2="862.10" stroke="#0567a3" stroke-width="2.0" />
<circle cx="576.8" cy="862.1" r="6.6" fill="#0567a3"/>
<text transform="translate(603.20,868.20)" font-size="19.6" text-anchor="start" font-family='"Liberation Sans", sans-serif' letter-spacing="0.25">25°C</text>
<line x1="558.00" y1="884.60" x2="594.80" y2="884.60" stroke="#cf0508" stroke-width="2.0" />
<circle cx="576.8" cy="884.6" r="6.6" fill="#cf0508"/>
<text transform="translate(603.20,890.70)" font-size="19.6" text-anchor="start" font-family='"Liberation Sans", sans-serif' letter-spacing="0.25">30°C</text>
<line x1="558.00" y1="907.10" x2="594.80" y2="907.10" stroke="#366c03" stroke-width="2.0" />
<circle cx="576.8" cy="907.1" r="6.6" fill="#366c03"/>
<text transform="translate(603.20,913.20)" font-size="19.6" text-anchor="start" font-family='"Liberation Sans", sans-serif' letter-spacing="0.25">37°C</text>
<line x1="558.00" y1="929.20" x2="594.80" y2="929.20" stroke="#6a4608" stroke-width="2.0" />
<circle cx="576.8" cy="929.2" r="6.6" fill="#6a4608"/>
<text transform="translate(603.20,935.30)" font-size="19.6" text-anchor="start" font-family='"Liberation Sans", sans-serif' letter-spacing="0.25">45°C</text>
<path d="M173.80,1703.96 L297.15,1642.91 L469.84,1530.73 L667.20,1356.77" fill="none" stroke="#0567a3" stroke-width="2.6" stroke-linejoin="round"/>
<line x1="173.80" y1="1690.26" x2="173.80" y2="1717.66" stroke="#0567a3" stroke-width="2.2" />
<line x1="166.80" y1="1690.26" x2="180.80" y2="1690.26" stroke="#0567a3" stroke-width="2.2" />
<line x1="166.80" y1="1717.66" x2="180.80" y2="1717.66" stroke="#0567a3" stroke-width="2.2" />
<line x1="297.15" y1="1624.21" x2="297.15" y2="1661.61" stroke="#0567a3" stroke-width="2.2" />
<line x1="290.15" y1="1624.21" x2="304.15" y2="1624.21" stroke="#0567a3" stroke-width="2.2" />
<line x1="290.15" y1="1661.61" x2="304.15" y2="1661.61" stroke="#0567a3" stroke-width="2.2" />
<line x1="469.84" y1="1520.93" x2="469.84" y2="1540.53" stroke="#0567a3" stroke-width="2.2" />
<line x1="462.84" y1="1520.93" x2="476.84" y2="1520.93" stroke="#0567a3" stroke-width="2.2" />
<line x1="462.84" y1="1540.53" x2="476.84" y2="1540.53" stroke="#0567a3" stroke-width="2.2" />
<line x1="667.20" y1="1338.47" x2="667.20" y2="1375.07" stroke="#0567a3" stroke-width="2.2" />
<line x1="660.20" y1="1338.47" x2="674.20" y2="1338.47" stroke="#0567a3" stroke-width="2.2" />
<line x1="660.20" y1="1375.07" x2="674.20" y2="1375.07" stroke="#0567a3" stroke-width="2.2" />
<circle cx="173.80" cy="1703.96" r="8.8" fill="#0567a3"/>
<circle cx="297.15" cy="1642.91" r="8.8" fill="#0567a3"/>
<circle cx="469.84" cy="1530.73" r="8.8" fill="#0567a3"/>
<circle cx="667.20" cy="1356.77" r="8.8" fill="#0567a3"/>
<rect x="161.6" y="1316.3" width="517.6" height="576.6000000000001" fill="none" stroke="#000" stroke-width="2.5"/>
<line x1="141.00" y1="1880.50" x2="161.60" y2="1880.50" stroke="#000" stroke-width="2.5" />
<g transform="translate(130.80,1890.10) scale(0.955,1)"><text x="-56.442" y="0" font-size="29" font-family='"Liberation Sans", sans-serif'>0.00</text>
</g>
<line x1="141.00" y1="1806.94" x2="161.60" y2="1806.94" stroke="#000" stroke-width="2.5" />
<g transform="translate(130.80,1816.54) scale(0.955,1)"><text x="-56.442" y="0" font-size="29" font-family='"Liberation Sans", sans-serif'>0.02</text>
</g>
<line x1="141.00" y1="1733.38" x2="161.60" y2="1733.38" stroke="#000" stroke-width="2.5" />
<g transform="translate(130.80,1742.98) scale(0.955,1)"><text x="-56.442" y="0" font-size="29" font-family='"Liberation Sans", sans-serif'>0.04</text>
</g>
<line x1="141.00" y1="1659.83" x2="161.60" y2="1659.83" stroke="#000" stroke-width="2.5" />
<g transform="translate(130.80,1669.43) scale(0.955,1)"><text x="-56.442" y="0" font-size="29" font-family='"Liberation Sans", sans-serif'>0.06</text>
</g>
<line x1="141.00" y1="1586.27" x2="161.60" y2="1586.27" stroke="#000" stroke-width="2.5" />
<g transform="translate(130.80,1595.87) scale(0.955,1)"><text x="-56.442" y="0" font-size="29" font-family='"Liberation Sans", sans-serif'>0.08</text>
</g>
<line x1="141.00" y1="1512.71" x2="161.60" y2="1512.71" stroke="#000" stroke-width="2.5" />
<g transform="translate(130.80,1522.31) scale(0.955,1)"><text x="-56.442" y="0" font-size="29" font-family='"Liberation Sans", sans-serif'>0.<tspan style="fill:none;stroke:none">1</tspan>0</text>
<path d="M515,0 L515,1237 L197,1010 L197,1180 L530,1409 L696,1409 L696,0 Z" transform="translate(-32.257,0) scale(0.014160,-0.014160)" fill="#000" stroke="#000" stroke-width="31.78"/>
</g>
<line x1="141.00" y1="1439.15" x2="161.60" y2="1439.15" stroke="#000" stroke-width="2.5" />
<g transform="translate(130.80,1448.75) scale(0.955,1)"><text x="-56.442" y="0" font-size="29" font-family='"Liberation Sans", sans-serif'>0.<tspan style="fill:none;stroke:none">1</tspan>2</text>
<path d="M515,0 L515,1237 L197,1010 L197,1180 L530,1409 L696,1409 L696,0 Z" transform="translate(-32.257,0) scale(0.014160,-0.014160)" fill="#000" stroke="#000" stroke-width="31.78"/>
</g>
<line x1="141.00" y1="1365.59" x2="161.60" y2="1365.59" stroke="#000" stroke-width="2.5" />
<g transform="translate(130.80,1375.19) scale(0.955,1)"><text x="-56.442" y="0" font-size="29" font-family='"Liberation Sans", sans-serif'>0.<tspan style="fill:none;stroke:none">1</tspan>4</text>
<path d="M515,0 L515,1237 L197,1010 L197,1180 L530,1409 L696,1409 L696,0 Z" transform="translate(-32.257,0) scale(0.014160,-0.014160)" fill="#000" stroke="#000" stroke-width="31.78"/>
</g>
<line x1="173.80" y1="1892.90" x2="173.80" y2="1913.30" stroke="#000" stroke-width="2.5" />
<text transform="translate(173.80,1949.50) scale(0.955,1)" font-size="29" text-anchor="middle" font-family='"Liberation Sans", sans-serif' >25</text>
<line x1="297.15" y1="1892.90" x2="297.15" y2="1913.30" stroke="#000" stroke-width="2.5" />
<text transform="translate(297.15,1949.50) scale(0.955,1)" font-size="29" text-anchor="middle" font-family='"Liberation Sans", sans-serif' >30</text>
<line x1="420.50" y1="1892.90" x2="420.50" y2="1913.30" stroke="#000" stroke-width="2.5" />
<text transform="translate(420.50,1949.50) scale(0.955,1)" font-size="29" text-anchor="middle" font-family='"Liberation Sans", sans-serif' >35</text>
<line x1="543.85" y1="1892.90" x2="543.85" y2="1913.30" stroke="#000" stroke-width="2.5" />
<text transform="translate(543.85,1949.50) scale(0.955,1)" font-size="29" text-anchor="middle" font-family='"Liberation Sans", sans-serif' >40</text>
<line x1="667.20" y1="1892.90" x2="667.20" y2="1913.30" stroke="#000" stroke-width="2.5" />
<text transform="translate(667.20,1949.50) scale(0.955,1)" font-size="29" text-anchor="middle" font-family='"Liberation Sans", sans-serif' >45</text>
<text transform="translate(414.20,1995.50) scale(0.96,1)" font-size="33" text-anchor="middle" font-family='"Liberation Sans", sans-serif' >Temperature (°C)</text>
<g transform="translate(46.6,1603.3) rotate(-90) scale(0.97,1)"><text font-size="28.6" text-anchor="middle" font-family='"Liberation Sans", sans-serif'>Rate ABTS<tspan font-size="19" dy="-18.5">+•</tspan><tspan dy="18.5"> decay (µM·min</tspan><tspan font-size="19" dy="-18.5">-<tspan style="fill:none;stroke:none">1</tspan></tspan><tspan dy="18.5">)</tspan></text>
<path d="M515,0 L515,1237 L197,1010 L197,1180 L530,1409 L696,1409 L696,0 Z" transform="translate(171.516,-18.5) scale(0.009277,-0.009277)" fill="#000" stroke="#000" stroke-width="48.51"/></g>
<text transform="translate(4.80,1338.20)" font-size="34.5" text-anchor="start" font-family='"Liberation Serif", serif' font-weight="bold">c</text>
</svg>
</body></html>
